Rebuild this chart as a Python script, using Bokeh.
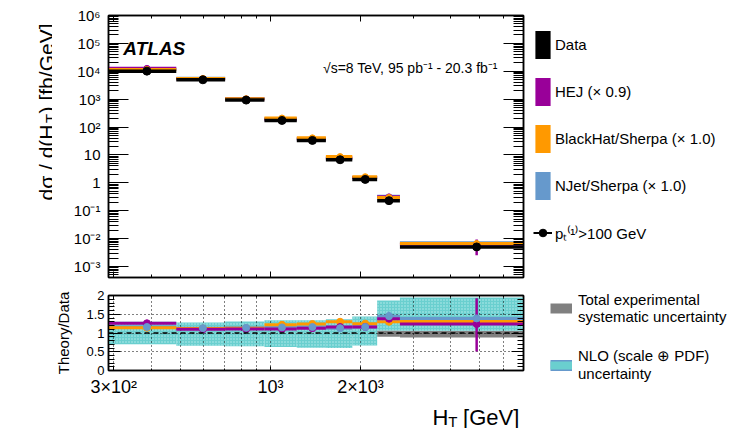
import math
from bokeh.plotting import figure
from bokeh.layouts import column, row
from bokeh.models import (ColumnDataSource, FixedTicker, CustomJSTickFormatter, LogAxis, LinearAxis,
                          Range1d, Label, Legend, LegendItem, Span)
from bokeh.embed import file_html
from bokeh.resources import INLINE

# ---------------- data ----------------
bin_lo = [280, 485, 706, 955, 1225, 1532, 1877, 2272, 2707]
bin_hi = [485, 706, 955, 1225, 1532, 1877, 2272, 2707, 7000]
bin_x = [387, 595, 830, 1093, 1381, 1709, 2073, 2489, 4883]

data_xs = [1.01e4, 4.94e3, 923, 172, 33, 6.7, 1.32, 0.228, 0.005]
hej_xs = [1.27e4, 5.43e3, 1.02e3, 191, 37.3, 7.8, 1.53, 0.312, 0.0062]
bh_xs = [1.15e4, 5.53e3, 1.04e3, 210, 40.9, 8.7, 1.65, 0.296, 0.0066]
njet_xs = [1.17e4, 5.58e3, 1.05e3, 198, 38.3, 7.6, 1.53, 0.331, 0.0070]
hej_xs_lo = [1.25e4, 5.35e3, 1.00e3, 188, 36.6, 7.6, 1.49, 0.300, 0.0025]
hej_xs_hi = [1.29e4, 5.51e3, 1.04e3, 194, 38.0, 8.0, 1.57, 0.324, 0.0092]

hej_ratio = [1.26, 1.10, 1.11, 1.11, 1.13, 1.16, 1.16, 1.38, 1.24]
hej_ratio_lo = [1.25, 1.09, 1.10, 1.10, 1.12, 1.15, 1.15, 1.35, 0.51]
hej_ratio_hi = [1.27, 1.11, 1.12, 1.12, 1.14, 1.17, 1.17, 1.41, 1.93]
bh_ratio = [1.14, 1.12, 1.13, 1.22, 1.24, 1.30, 1.25, 1.30, 1.31]
bh_ratio_lo = [1.13, 1.11, 1.12, 1.21, 1.23, 1.29, 1.24, 1.25, 1.29]
bh_ratio_hi = [1.15, 1.13, 1.14, 1.23, 1.25, 1.31, 1.26, 1.33, 1.33]
njet_ratio = [1.16, 1.13, 1.14, 1.15, 1.16, 1.13, 1.16, 1.45, 1.39]
njet_ratio_lo = [1.15, 1.12, 1.13, 1.14, 1.15, 1.12, 1.15, 1.35, 1.36]
njet_ratio_hi = [1.17, 1.14, 1.15, 1.16, 1.17, 1.14, 1.17, 1.57, 1.42]

sys_lo = [0.94, 0.94, 0.94, 0.94, 0.94, 0.93, 0.93, 0.90, 0.88]
sys_hi = [1.06, 1.06, 1.06, 1.06, 1.06, 1.07, 1.07, 1.07, 1.06]
nlo_lo = [0.70, 0.66, 0.65, 0.63, 0.61, 0.60, 0.67, 1.07, 1.06]
nlo_hi = [1.30, 1.28, 1.31, 1.34, 1.34, 1.37, 1.44, 1.87, 1.95]

y_tick_vals = [1e-3, 1e-2, 1e-1, 1, 10, 1e2, 1e3, 1e4, 1e5, 1e6]
y_tick_labels = ["10⁻³", "10⁻²", "10⁻¹", "1", "10", "10²", "10³", "10⁴", "10⁵", "10⁶"]
x_tick_vals = [300, 1000, 2000]
x_tick_labels = ["3×10²", "10³", "2×10³"]
x_minor_vals = [400, 500, 600, 700, 800, 900, 3000, 4000, 5000, 6000, 7000]
r_tick_vals = [0, 0.5, 1, 1.5, 2]
r_tick_labels = ["0", "0.5", "1", "1.5", "2"]

C_HEJ = "#990099"
C_BH = "#ff9900"
C_NJ = "#6699cc"
C_SYS = "#808080"
C_NLO = "#6acfcf"
FONT = "Liberation Sans"
NAN = float("nan")

# ---------------- layout geometry (page pixels) ----------------
X0, X1 = 288.0, 7000.0
Y0, Y1 = 4e-4, 1e6
W_LEFT = 52          # left strip (y title)
BL = 52              # left border of main figures -> frame starts at 104
FW = 419             # frame width
BRD = 4              # right border of main figures
W_MAIN = BL + FW + BRD
W_RIGHT = 747 - W_LEFT - W_MAIN
TOP_H = 286
BOT_H = 113
XT_H = 29
XL = W_LEFT + BL
XR = XL + FW
TT, TB = 15.0, 277.0


def px_x(px):
    return X0 * (X1 / X0) ** ((px - XL) / (XR - XL))


def py_top(py):
    return Y0 * (Y1 / Y0) ** ((TB - py) / (TB - TT))


src = ColumnDataSource(dict(
    lo=bin_lo, hi=bin_hi, xc=bin_x,
    data=data_xs, hej=hej_xs, bh=bh_xs, nj=njet_xs, hej_lo=hej_xs_lo, hej_hi=hej_xs_hi,
    rhej=hej_ratio, rhej_lo=hej_ratio_lo, rhej_hi=hej_ratio_hi,
    rbh=bh_ratio, rbh_lo=bh_ratio_lo, rbh_hi=bh_ratio_hi,
    rnj=njet_ratio, rnj_lo=njet_ratio_lo, rnj_hi=njet_ratio_hi,
    slo=sys_lo, shi=sys_hi, nlo=nlo_lo, nhi=nlo_hi,
))

fmt_code = """
let best = -1, bd = 1e9;
for (let i = 0; i < vals.length; i++) {
  const d = Math.abs(Math.log10(tick) - Math.log10(vals[i]));
  if (d < bd) { bd = d; best = i; }
}
return (best >= 0 && bd < 1e-6) ? labs[best] : "";
"""
lin_code = """
for (let i = 0; i < vals.length; i++) { if (Math.abs(vals[i] - tick) < 1e-9) return labs[i]; }
return "";
"""

y_minor = [k * 10.0 ** e for e in range(-4, 6) for k in range(2, 10) if Y0 <= k * 10.0 ** e <= Y1]
y_ticker = FixedTicker(ticks=y_tick_vals, minor_ticks=y_minor)
x_ticker = FixedTicker(ticks=x_tick_vals, minor_ticks=x_minor_vals)


def style_axis(ax, tin, tmin, labels=True, size="15px", standoff=6):
    ax.major_tick_in = tin
    ax.major_tick_out = 0
    ax.minor_tick_in = tmin
    ax.minor_tick_out = 0
    ax.axis_line_color = "black"
    ax.axis_line_width = 1.5
    ax.major_tick_line_width = 1
    ax.minor_tick_line_width = 1
    ax.major_label_text_font = FONT
    ax.major_label_text_color = "black"
    if labels:
        ax.major_label_text_font_size = size
        ax.major_label_standoff = standoff
    else:
        ax.major_label_text_font_size = "0px"
        ax.major_label_standoff = 0
        ax.major_label_text_alpha = 0


def strip(w, h, x_range=None):
    f = figure(width=w, height=h, x_range=x_range or Range1d(0, w), y_range=Range1d(0, h),
               x_axis_location=None, y_axis_location=None, output_backend="svg",
               toolbar_location=None, min_border=0)
    f.grid.visible = False
    f.outline_line_color = None
    f.background_fill_color = "white"
    f.border_fill_color = "white"
    return f


def txt(fig, x, y, text, size, **kw):
    fig.add_layout(Label(x=x, y=y, text=text, text_font=FONT, text_font_size=size,
                         text_color="black", **kw))


def nan_quad(fig, color, **kw):
    return fig.quad(left=[NAN], right=[NAN], top=[NAN], bottom=[NAN], fill_color=color, line_color=None, **kw)


# ---------------- top panel ----------------
top = figure(width=W_MAIN, height=TOP_H, x_axis_type="log", y_axis_type="log",
             x_range=Range1d(X0, X1), y_range=Range1d(Y0, Y1),
             output_backend="svg", toolbar_location=None,
             min_border_left=BL, min_border_right=BRD, min_border_top=15, min_border_bottom=9)
top.grid.visible = False
top.outline_line_color = "black"
top.outline_line_width = 1.5
top.background_fill_color = "white"
top.border_fill_color = "white"

top.xaxis.ticker = x_ticker
style_axis(top.xaxis[0], 6, 3, labels=False)
top.yaxis.ticker = y_ticker
top.yaxis.formatter = CustomJSTickFormatter(args=dict(vals=y_tick_vals, labs=y_tick_labels), code=fmt_code)
style_axis(top.yaxis[0], 20, 10, labels=True, size="15px", standoff=8)

ax_r = LogAxis(ticker=y_ticker)
style_axis(ax_r, 20, 10, labels=False)
top.add_layout(ax_r, "right")
ax_t = LogAxis(ticker=x_ticker)
style_axis(ax_t, 6, 3, labels=False)
top.add_layout(ax_t, "above")

top.segment(x0="lo", x1="hi", y0="nj", y1="nj", source=src, line_color=C_NJ, line_width=3, line_cap="butt")
top.segment(x0="lo", x1="hi", y0="hej", y1="hej", source=src, line_color=C_HEJ, line_width=3, line_cap="butt")
top.segment(x0="xc", x1="xc", y0="hej_lo", y1="hej_hi", source=src, line_color=C_HEJ, line_width=2.5)
top.segment(x0="lo", x1="hi", y0="bh", y1="bh", source=src, line_color=C_BH, line_width=3, line_cap="butt")
top.scatter(x="xc", y="hej", source=src, size=6, color=C_HEJ)
top.scatter(x="xc", y="bh", source=src, size=6, color=C_BH)
top.segment(x0="lo", x1="hi", y0="data", y1="data", source=src, line_color="black", line_width=3.5, line_cap="butt")
top.scatter(x="xc", y="data", source=src, size=8, color="black")

txt(top, px_x(119), py_top(48), "ATLAS", "19px", text_font_style="bold italic",
    text_align="left", text_baseline="alphabetic")
txt(top, px_x(497), py_top(67), "√s=8 TeV, 95 pb⁻¹ - 20.3 fb⁻¹", "14px",
    text_align="right", text_baseline="alphabetic")

# ---------------- left strip: y-axis title with composed subscript ----------------
ylab = strip(W_LEFT, TOP_H)
ang = math.pi / 2
F_YT = 21
y_start = 200.0
w_main1 = 3.617 * F_YT + 1.5
w_sub = 0.611 * 15 + 0.5
for px, py, t, sz in [(46, y_start, "dσ / d(H", f"{F_YT}px"),
                      (50, y_start - w_main1, "T", "15px"),
                      (46, y_start - w_main1 - w_sub, ") [fb/GeV]", f"{F_YT}px")]:
    txt(ylab, px, TOP_H - py, t, sz, angle=ang, text_align="left", text_baseline="alphabetic")

# ---------------- right strip: main legend ----------------
legT = strip(W_RIGHT, TOP_H)
r_data = nan_quad(legT, "black")
r_hej = nan_quad(legT, C_HEJ)
r_bh = nan_quad(legT, C_BH)
r_nj = nan_quad(legT, C_NJ)
r_pl = legT.line(x=[NAN], y=[NAN], line_color="black", line_width=2)
r_pm = legT.scatter(x=[NAN], y=[NAN], size=7, color="black")
leg = Legend(items=[
    LegendItem(label="Data", renderers=[r_data]),
    LegendItem(label="HEJ (× 0.9)", renderers=[r_hej]),
    LegendItem(label="BlackHat/Sherpa (× 1.0)", renderers=[r_bh]),
    LegendItem(label="NJet/Sherpa (× 1.0)", renderers=[r_nj]),
    LegendItem(label="pₜ⁽¹⁾>100 GeV", renderers=[r_pl, r_pm]),
], location=(533 - (W_LEFT + W_MAIN), 36), orientation="vertical", glyph_width=19, glyph_height=35,
    spacing=12, padding=0, margin=0, label_standoff=3, label_text_font=FONT, label_text_font_size="15px",
    label_text_color="black", label_text_baseline="middle", border_line_alpha=0, background_fill_alpha=0)
legT.add_layout(leg)

# ---------------- bottom (ratio) panel ----------------
bot = figure(width=W_MAIN, height=BOT_H, x_axis_type="log",
             x_range=Range1d(X0, X1), y_range=Range1d(0, 2),
             output_backend="svg", toolbar_location=None,
             min_border_left=BL, min_border_right=BRD, min_border_top=9, min_border_bottom=27)
bot.outline_line_color = "black"
bot.outline_line_width = 1.5
bot.background_fill_color = "white"
bot.border_fill_color = "white"

bot.xaxis.ticker = x_ticker
bot.xaxis.formatter = CustomJSTickFormatter(args=dict(vals=x_tick_vals, labs=x_tick_labels), code=fmt_code)
style_axis(bot.xaxis[0], 4, 2, labels=True, size="18px", standoff=6)
r_ticker = FixedTicker(ticks=r_tick_vals, minor_ticks=[i / 10 for i in range(0, 21)])
bot.yaxis.ticker = r_ticker
bot.yaxis.formatter = CustomJSTickFormatter(args=dict(vals=r_tick_vals, labs=r_tick_labels), code=lin_code)
style_axis(bot.yaxis[0], 12, 6, labels=True, size="13px", standoff=4)
bot.yaxis.axis_label = "Theory/Data"
bot.yaxis.axis_label_text_font = FONT
bot.yaxis.axis_label_text_font_size = "15px"
bot.yaxis.axis_label_text_font_style = "normal"
bot.yaxis.axis_label_text_color = "black"
bot.yaxis.axis_label_standoff = 11

ax_r2 = LinearAxis(ticker=r_ticker)
style_axis(ax_r2, 12, 6, labels=False)
bot.add_layout(ax_r2, "right")
ax_t2 = LogAxis(ticker=x_ticker)
style_axis(ax_t2, 4, 2, labels=False)
bot.add_layout(ax_t2, "above")

for g in (bot.xgrid[0], bot.ygrid[0]):
    g.grid_line_color = "black"
    g.grid_line_dash = "1 3"
    g.grid_line_width = 1
    g.level = "underlay"
bot.xgrid[0].ticker = x_ticker
bot.xgrid[0].minor_grid_line_color = "black"
bot.xgrid[0].minor_grid_line_dash = "1 3"
bot.ygrid[0].ticker = FixedTicker(ticks=r_tick_vals)

q1 = bot.quad(left="lo", right="hi", bottom="slo", top="shi", source=src, fill_color=C_SYS, line_color=None)
q1.level = "image"
q2 = bot.quad(left="lo", right="hi", bottom="nlo", top="nhi", source=src, fill_color=C_NLO, line_color=None,
              hatch_pattern="dot", hatch_color="#b8ecec", hatch_scale=3, hatch_weight=1)
q2.level = "image"

bot.segment(x0="lo", x1="hi", y0="rnj", y1="rnj", source=src, line_color=C_NJ, line_width=3, line_cap="butt")
bot.segment(x0="lo", x1="hi", y0="rbh", y1="rbh", source=src, line_color=C_BH, line_width=3, line_cap="butt")
bot.segment(x0="lo", x1="hi", y0="rhej", y1="rhej", source=src, line_color=C_HEJ, line_width=3, line_cap="butt")
bot.segment(x0="xc", x1="xc", y0="rbh_lo", y1="rbh_hi", source=src, line_color=C_BH, line_width=3)
bot.segment(x0="xc", x1="xc", y0="rhej_lo", y1="rhej_hi", source=src, line_color=C_HEJ, line_width=2.5)
bot.segment(x0="xc", x1="xc", y0="rnj_lo", y1="rnj_hi", source=src, line_color=C_NJ, line_width=3)
bot.scatter(x="xc", y="rbh", source=src, size=7, color=C_BH)
bot.scatter(x="xc", y="rhej", source=src, size=7, color=C_HEJ)
bot.scatter(x="xc", y="rnj", source=src, size=7, color=C_NJ)

bot.add_layout(Span(location=1, dimension="width", line_color="black", line_dash="5 4", line_width=1.5))

# ---------------- bottom strip: x-axis title with composed subscript ----------------
# this strip's frame lines up with the panel frames above it, so its x range is in page pixels
xt = strip(W_MAIN, XT_H, x_range=Range1d(XL, XR))
y_base = TOP_H + BOT_H + XT_H
for px, py, t, sz in [(431.0, 417, "H", "22px"), (447.0, 421, "T", "15px"),
                      (462.0, 417, "[GeV]", "22px")]:
    txt(xt, px, y_base - py, t, sz, text_align="left", text_baseline="alphabetic")

# ---------------- right-bottom strip: uncertainty legend ----------------
LB_H = BOT_H + XT_H
legB = strip(W_RIGHT, LB_H)
r_sys = legB.line(x=[NAN], y=[NAN], line_color=C_SYS, line_width=10, line_cap="butt")
r_nb = legB.line(x=[NAN], y=[NAN], line_color=C_NJ, line_width=11, line_cap="butt")
r_nc = legB.line(x=[NAN], y=[NAN], line_color=C_NLO, line_width=8, line_cap="butt")
leg2 = Legend(items=[
    LegendItem(label="Total experimental\nsystematic uncertainty", renderers=[r_sys]),
    LegendItem(label="NLO (scale ⊕ PDF)\nuncertainty", renderers=[r_nb, r_nc]),
], location=(550 - (W_LEFT + W_MAIN), LB_H - 93 - (289.5 - TOP_H)), orientation="vertical",
    glyph_width=22, glyph_height=36, spacing=21, padding=0, margin=0, label_standoff=6,
    label_text_font=FONT, label_text_font_size="15px", label_text_color="black",
    label_text_baseline="middle", border_line_alpha=0, background_fill_alpha=0)
legB.add_layout(leg2)

layout = row(ylab, column(top, bot, xt, spacing=0), column(legT, legB, spacing=0), spacing=0)
open("out.html", "w").write(file_html(layout, INLINE))
